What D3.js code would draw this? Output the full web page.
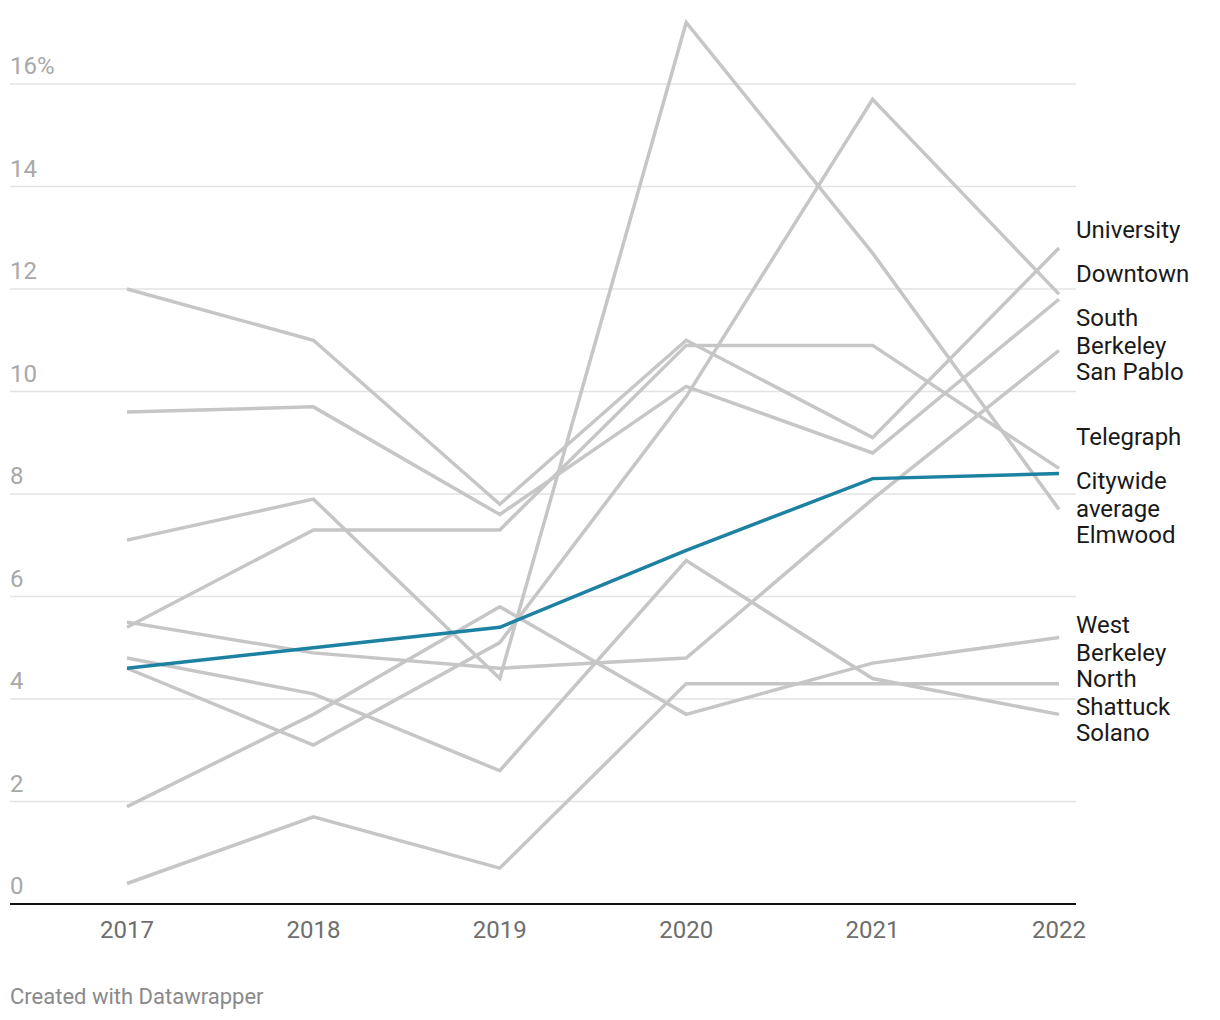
<!DOCTYPE html>
<html>
<head>
<meta charset="utf-8">
<script src="https://cdn.jsdelivr.net/npm/d3@7"></script>
<style>
  html, body { margin: 0; padding: 0; background: #fff; }
  svg { display: block; font-family: Roboto, "Noto Sans", sans-serif; }
</style>
</head>
<body>
<svg id="chart" width="1220" height="1020"></svg>
<script>
// ---- Data ----
const years = [2017, 2018, 2019, 2020, 2021, 2022];
const yTicks = [0, 2, 4, 6, 8, 10, 12, 14, 16];

const university    = [12.0, 11.0, 7.8, 11.0, 9.1, 12.8];
const downtown      = [4.6, 3.1, 5.1, 9.9, 15.7, 11.9];
const southBerkeley = [9.6, 9.7, 7.6, 10.1, 8.8, 11.8];
const sanPablo      = [5.5, 4.9, 4.6, 4.8, 7.9, 10.8];
const telegraph     = [5.4, 7.3, 7.3, 10.9, 10.9, 8.5];
const citywide      = [4.6, 5.0, 5.4, 6.9, 8.3, 8.4];
const elmwood       = [7.1, 7.9, 4.4, 17.2, 12.7, 7.7];
const westBerkeley  = [1.9, 3.7, 5.8, 3.7, 4.7, 5.2];
const northShattuck = [0.4, 1.7, 0.7, 4.3, 4.3, 4.3];
const solano        = [4.8, 4.1, 2.6, 6.7, 4.4, 3.7];

const seriesNames = ["University", "Downtown", "South Berkeley", "San Pablo", "Telegraph",
                     "Citywide average", "Elmwood", "West Berkeley", "North Shattuck", "Solano"];
const seriesValues = [university, downtown, southBerkeley, sanPablo, telegraph,
                      citywide, elmwood, westBerkeley, northShattuck, solano];
const highlighted = "Citywide average";
const footerText = "Created with Datawrapper";

// ---- Layout ----
const svg = d3.select("#chart");
const left = 10, right = 1076;
const x = d3.scaleLinear().domain([2017, 2022]).range([127, 1059]);
const y = d3.scaleLinear().domain([0, 16]).range([904, 84]);

const series = seriesNames.map((name, i) => ({
  name, values: seriesValues[i].map((v, j) => ({ year: years[j], value: v }))
}));

// gridlines
svg.append("g").selectAll("line")
  .data(yTicks.filter(d => d !== 0))
  .join("line")
  .attr("x1", left).attr("x2", right)
  .attr("y1", d => y(d)).attr("y2", d => y(d))
  .attr("stroke", "#e3e3e3").attr("stroke-width", 1.5);

// y tick labels
svg.append("g").selectAll("text")
  .data(yTicks)
  .join("text")
  .attr("x", left)
  .attr("y", d => y(d) - 10)
  .attr("font-size", 24)
  .attr("fill", "#a8a8a8")
  .text(d => d === 16 ? d + "%" : d);

// x axis baseline
svg.append("line")
  .attr("x1", left).attr("x2", right)
  .attr("y1", y(0)).attr("y2", y(0))
  .attr("stroke", "#111").attr("stroke-width", 2);

// x tick labels
svg.append("g").selectAll("text")
  .data(years)
  .join("text")
  .attr("x", d => x(d))
  .attr("y", 938)
  .attr("text-anchor", "middle")
  .attr("font-size", 24)
  .attr("fill", "#6e6e6e")
  .text(d => d);

// lines
const line = d3.line().x(d => x(d.year)).y(d => y(d.value));
const ordered = series.filter(s => s.name !== highlighted).concat(series.filter(s => s.name === highlighted));
svg.append("g").selectAll("path")
  .data(ordered)
  .join("path")
  .attr("d", d => line(d.values))
  .attr("fill", "none")
  .attr("stroke", d => d.name === highlighted ? "#1d81a2" : "#c6c6c6")
  .attr("stroke-width", 3.5)
  .attr("stroke-linejoin", "miter");

// series labels with wrapping + collision avoidance
const labelX = 1076, fontSize = 24, lineH = 28, maxW = 140;
const lg = svg.append("g");
const labels = series.map(s => {
  const words = s.name.split(" ");
  const t = lg.append("text").attr("font-size", fontSize).attr("fill", "#1a1a1a");
  const lines = [];
  let cur = [];
  const probe = lg.append("text").attr("font-size", fontSize);
  words.forEach(w => {
    const test = cur.concat([w]).join(" ");
    probe.text(test);
    if (cur.length && probe.node().getComputedTextLength() > maxW) {
      lines.push(cur.join(" "));
      cur = [w];
    } else cur.push(w);
  });
  lines.push(cur.join(" "));
  probe.remove();
  const last = s.values[s.values.length - 1];
  return { el: t, lines, desired: y(last.value), pos: 0 };
});

function need(l) { return l.lines.length === 1 ? 44 : 26 + (l.lines.length - 1) * lineH; }
function attach(c) {
  c.lastOff = () => c.offsets[c.offsets.length - 1];
  c.lastNeed = () => need(c.members[c.members.length - 1]);
}
labels.sort((a, b) => a.desired - b.desired);
const clusters = [];
labels.forEach(l => {
  const c = { members: [l], offsets: [0], pos: l.desired };
  attach(c);
  clusters.push(c);
  while (clusters.length > 1) {
    const b = clusters[clusters.length - 1], a = clusters[clusters.length - 2];
    if (a.pos + a.lastOff() + a.lastNeed() > b.pos) {
      const base = a.lastOff() + a.lastNeed();
      const merged = { members: a.members.concat(b.members),
        offsets: a.offsets.concat(b.offsets.map(o => o + base)) };
      attach(merged);
      merged.pos = d3.mean(merged.members.map((m, i) => m.desired - merged.offsets[i]));
      clusters.splice(clusters.length - 2, 2, merged);
    } else break;
  }
});
clusters.forEach(c => c.members.forEach((m, i) => { m.pos = c.pos + c.offsets[i]; }));

labels.forEach(l => {
  l.el.attr("x", labelX).attr("y", l.pos);
  l.lines.forEach((ln, i) => {
    l.el.append("tspan").attr("x", labelX).attr("dy", i === 0 ? "0.35em" : lineH).text(ln);
  });
});

// footer
svg.append("text")
  .attr("x", left).attr("y", 1004)
  .attr("font-size", 22)
  .attr("fill", "#8a8a8a")
  .text(footerText);
</script>
</body>
</html>
